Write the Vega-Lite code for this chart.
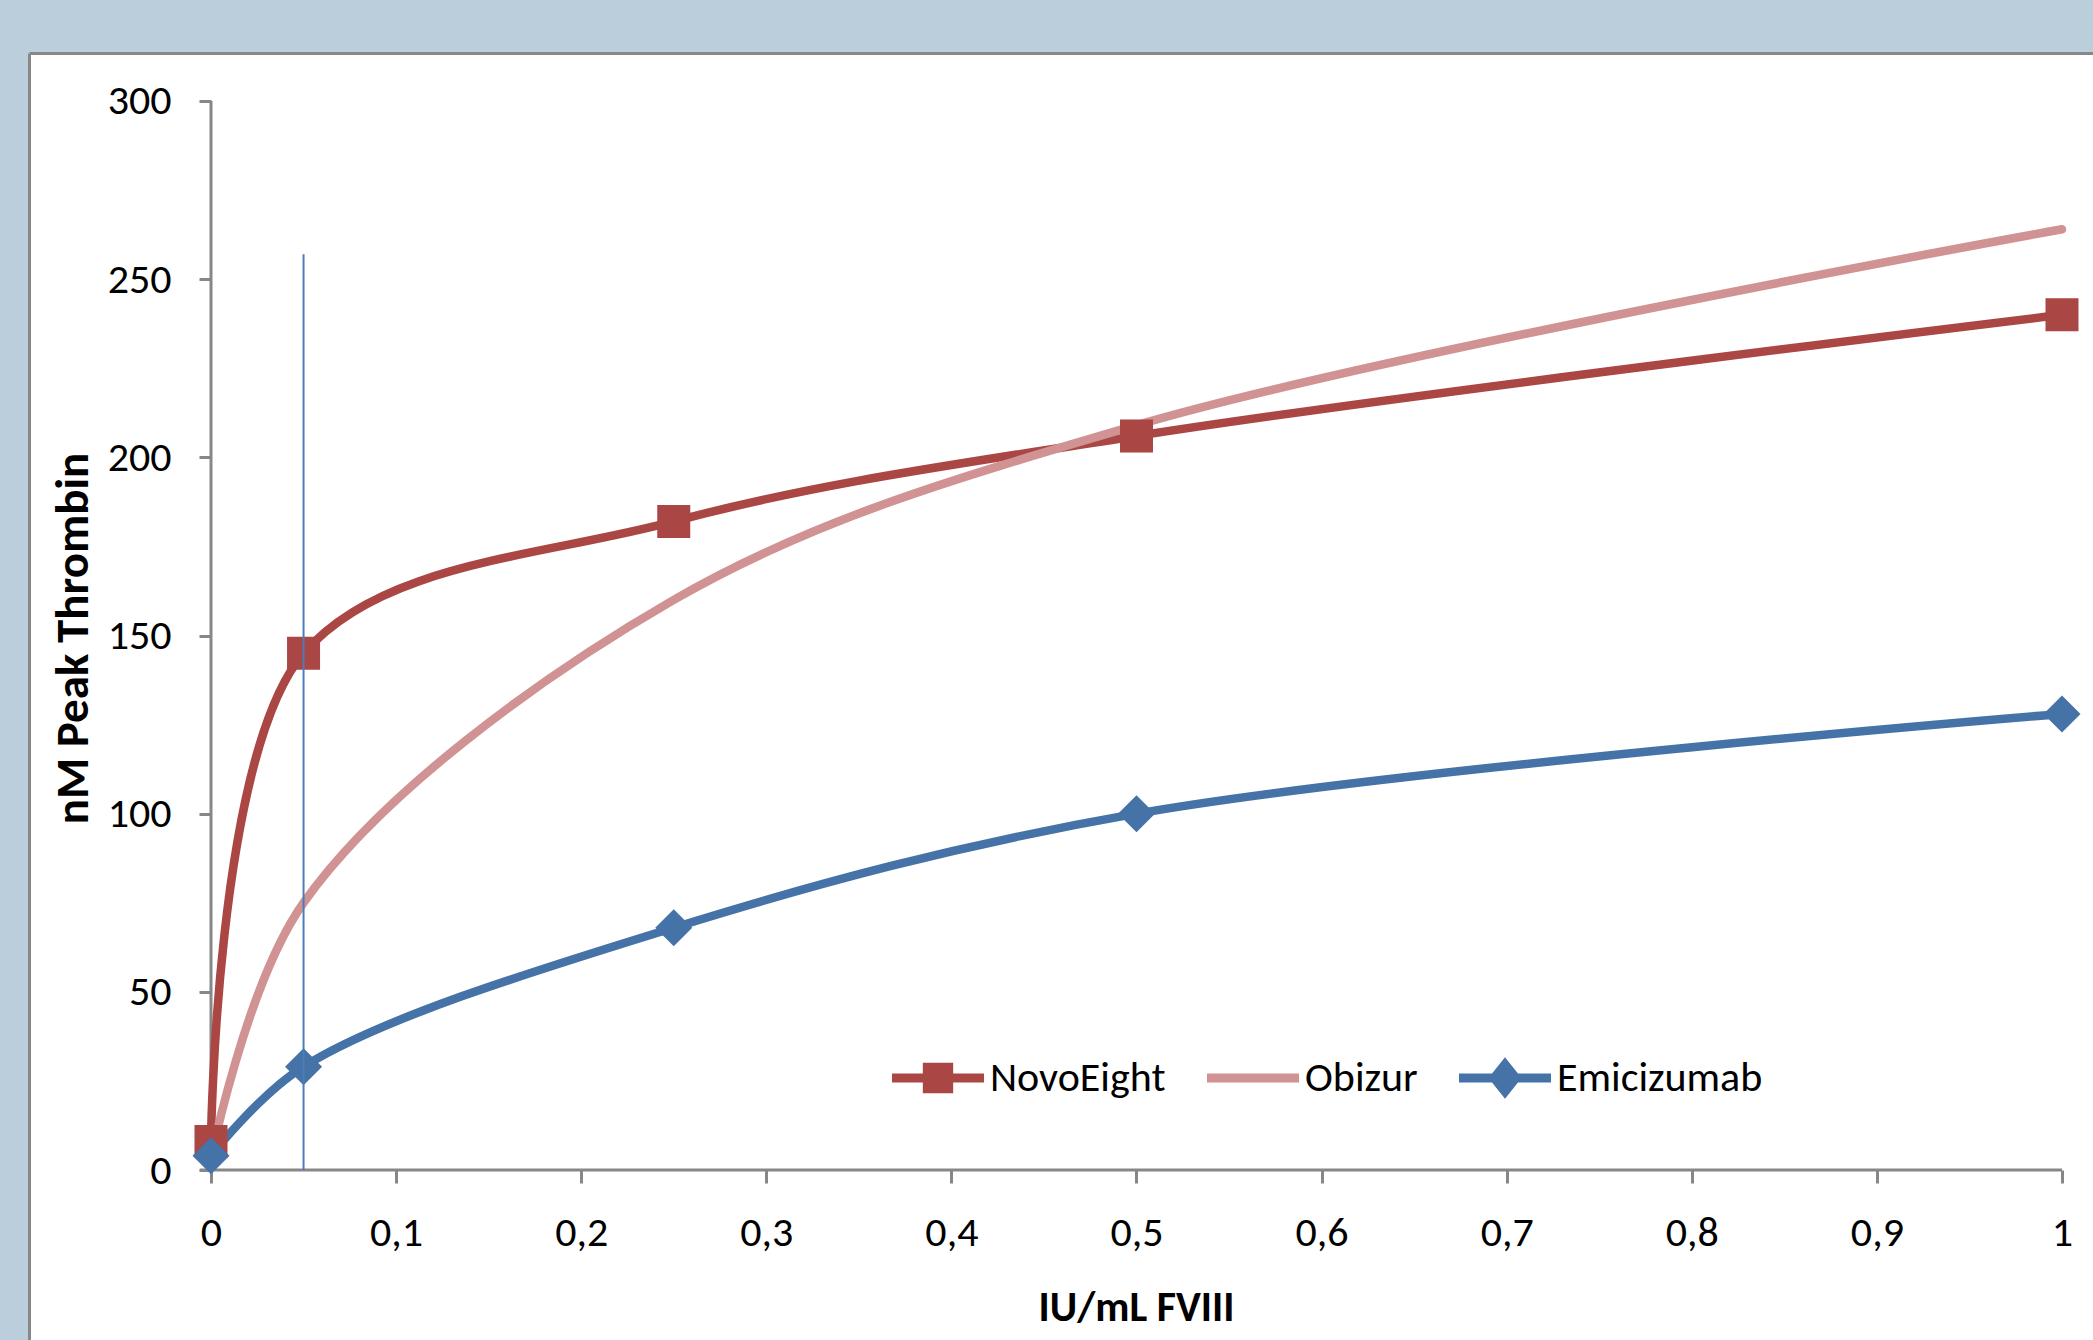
{
  "$schema": "https://vega.github.io/schema/vega-lite/v6.json",
  "width": 2064,
  "height": 1287,
  "autosize": {"type": "none"},
  "padding": {"left": 29, "top": 53, "right": 0, "bottom": 0},
  "background": "#BACFDB",
  "config": {
    "font": "Carlito, Lato, sans-serif",
    "view": {"fill": "white", "stroke": null}
  },
  "datasets": {
    "series": [
      {"x": 0, "y": 8, "s": "NovoEight"},
      {"x": 0.05, "y": 145, "s": "NovoEight"},
      {"x": 0.25, "y": 182, "s": "NovoEight"},
      {"x": 0.5, "y": 206, "s": "NovoEight"},
      {"x": 1, "y": 240, "s": "NovoEight"},
      {"x": 0, "y": 3, "s": "Obizur"},
      {"x": 0.05, "y": 75, "s": "Obizur"},
      {"x": 0.25, "y": 160, "s": "Obizur"},
      {"x": 0.5, "y": 209, "s": "Obizur"},
      {"x": 1, "y": 264, "s": "Obizur"},
      {"x": 0, "y": 4, "s": "Emicizumab"},
      {"x": 0.05, "y": 29, "s": "Emicizumab"},
      {"x": 0.25, "y": 68, "s": "Emicizumab"},
      {"x": 0.5, "y": 100, "s": "Emicizumab"},
      {"x": 1, "y": 128, "s": "Emicizumab"}
    ]
  },
  "resolve": {"axis": {"x": "independent", "y": "independent"}},
  "layer": [
    {
      "data": {"values": [{}]},
      "mark": {"type": "rule", "color": "#878787", "strokeWidth": 3},
      "encoding": {
        "x": {"datum": 0, "type": "quantitative",
          "scale": {"domain": [-0.098325, 1.016748], "nice": false, "zero": false},
          "axis": {"orient": "top", "domain": true, "domainColor": "#878787", "domainWidth": 3, "ticks": false, "labels": false, "grid": false, "title": null}},
        "y": {"datum": 0, "type": "quantitative",
          "scale": {"domain": [-47.708, 313.4705], "nice": false, "zero": false},
          "axis": {"orient": "left", "domain": true, "domainColor": "#878787", "domainWidth": 3, "ticks": false, "labels": false, "grid": false, "title": null}},
        "y2": {"datum": 300}
      }
    },
    {
      "data": {"values": [{}]},
      "mark": {"type": "rule", "color": "#878787", "strokeWidth": 3},
      "encoding": {
        "x": {"datum": -0.006, "type": "quantitative", "scale": {"domain": [-0.098325, 1.016748], "nice": false, "zero": false}, "axis": null},
        "x2": {"datum": 1},
        "y": {"datum": 0, "type": "quantitative", "scale": {"domain": [-47.708, 313.4705], "nice": false, "zero": false}, "axis": null}
      }
    },
    {
      "data": {"name": "series"},
      "mark": {"type": "line", "interpolate": "catmull-rom", "strokeWidth": 8.5, "strokeCap": "round"},
      "encoding": {
        "x": {"field": "x", "type": "quantitative",
          "scale": {"domain": [-0.098325, 1.016748], "nice": false, "zero": false},
          "axis": {"orient": "bottom", "offset": -170, "values": [0, 0.1, 0.2, 0.3, 0.4, 0.5, 0.6, 0.7, 0.8, 0.9, 1],
            "format": "~g", "labelExpr": "replace(datum.label, '.', ',')",
            "domain": false, "grid": false, "tickSize": 13, "tickWidth": 3, "tickColor": "#878787",
            "labelFontSize": 42, "labelColor": "#000000", "labelPadding": 29, "labelFlush": false, "labelOverlap": false,
            "title": "IU/mL FVIII", "titleFontSize": 42, "titleFontWeight": "bold", "titleColor": "#000000",
            "titleX": 1107, "titleY": 137, "titleAlign": "center", "titleBaseline": "middle", "titleAngle": 0}},
        "y": {"field": "y", "type": "quantitative",
          "scale": {"domain": [-47.708, 313.4705], "nice": false, "zero": false},
          "axis": {"orient": "left", "offset": -182, "values": [0, 50, 100, 150, 200, 250, 300],
            "domain": false, "grid": false, "tickSize": 12, "tickWidth": 3, "tickColor": "#878787",
            "labelFontSize": 42, "labelColor": "#000000", "labelPadding": 28, "labelFlush": false, "labelOverlap": false,
            "title": "nM Peak Thrombin", "titleFontSize": 47, "titleFontWeight": "bold", "titleColor": "#000000",
            "titleX": -138, "titleY": 585, "titleAlign": "center", "titleBaseline": "middle", "titleAngle": -90}},
        "color": {"field": "s", "type": "nominal",
          "scale": {"domain": ["NovoEight", "Obizur", "Emicizumab"], "range": ["#AA4643", "#D09292", "#4572A7"]},
          "legend": {"orient": "none", "legendX": 863, "legendY": 979, "direction": "horizontal", "columns": 3,
            "title": null, "symbolSize": 8464, "labelFontSize": 42, "labelColor": "#000000", "labelLimit": 400,
            "labelOffset": 6, "columnPadding": 41, "padding": 0, "offset": 0,
            "encode": {"symbols": {"update": {
              "shape": {"signal": "datum.value === 'NovoEight' ? 'M-1,-0.1H1V0.1H-1Z M-0.33,-0.33H0.33V0.33H-0.33Z' : (datum.value === 'Obizur' ? 'M-1,-0.1H1V0.1H-1Z' : 'M-1,-0.1H1V0.1H-1Z M-0.36,0L0,-0.45L0.36,0L0,0.45Z')"},
              "fill": {"scale": "color", "field": "value"},
              "stroke": {"value": "transparent"},
              "strokeWidth": {"value": 0},
              "opacity": {"value": 1}
            }}}}}
      }
    },
    {
      "data": {"name": "series"},
      "transform": [{"filter": "datum.s === 'NovoEight'"}],
      "mark": {"type": "point", "shape": "square", "filled": true, "size": 1089, "color": "#AA4643", "opacity": 1},
      "encoding": {
        "x": {"field": "x", "type": "quantitative", "scale": {"domain": [-0.098325, 1.016748], "nice": false, "zero": false}, "axis": null},
        "y": {"field": "y", "type": "quantitative", "scale": {"domain": [-47.708, 313.4705], "nice": false, "zero": false}, "axis": null}
      }
    },
    {
      "data": {"name": "series"},
      "transform": [{"filter": "datum.s === 'Emicizumab'"}],
      "mark": {"type": "point", "shape": "diamond", "filled": true, "size": 1369, "color": "#4572A7", "opacity": 1},
      "encoding": {
        "x": {"field": "x", "type": "quantitative", "scale": {"domain": [-0.098325, 1.016748], "nice": false, "zero": false}, "axis": null},
        "y": {"field": "y", "type": "quantitative", "scale": {"domain": [-47.708, 313.4705], "nice": false, "zero": false}, "axis": null}
      }
    },
    {
      "data": {"values": [{}]},
      "mark": {"type": "rule", "color": "#4A7EBB", "strokeWidth": 2},
      "encoding": {
        "x": {"datum": 0.05, "type": "quantitative", "scale": {"domain": [-0.098325, 1.016748], "nice": false, "zero": false}, "axis": null},
        "y": {"datum": 0, "type": "quantitative", "scale": {"domain": [-47.708, 313.4705], "nice": false, "zero": false}, "axis": null},
        "y2": {"datum": 257}
      }
    }
  ]
}
